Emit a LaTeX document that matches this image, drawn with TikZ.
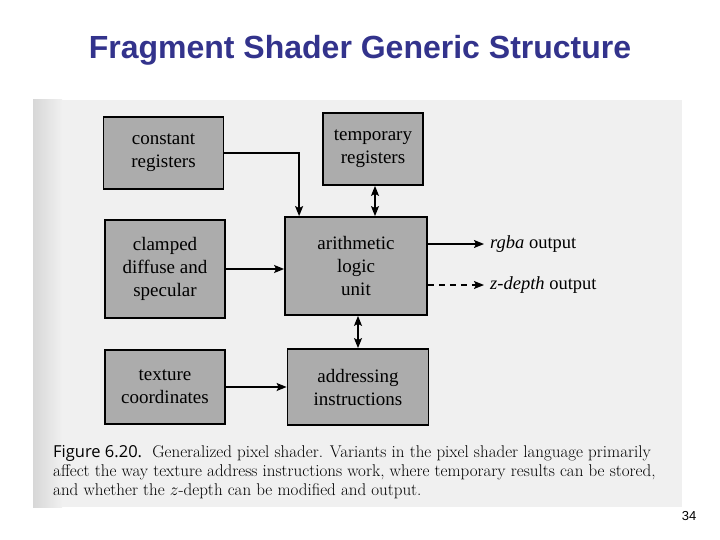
\documentclass[tikz,border=0pt]{standalone}
\usepackage{fontspec}
\newfontfamily\arialfont{Liberation Sans}
\newfontfamily\timesfont{Liberation Serif}
\newfontfamily\figfont{Open Sans}
\usetikzlibrary{arrows.meta,calc}
\definecolor{titleblue}{RGB}{51,51,140}
\definecolor{boxgray}{RGB}{172,172,172}
\definecolor{scanbg}{RGB}{240,240,240}
\definecolor{scanedge}{RGB}{215,215,215}
\begin{document}
\begin{tikzpicture}[x=1pt,y=-1pt,
  blk/.style={draw=black, line width=1.8pt, fill=boxgray, inner sep=0pt, align=center,
    font=\timesfont\fontsize{19}{23}\selectfont},
  conn/.style={line width=1.4pt, -{Stealth[length=10pt,width=8pt,inset=2pt]}},
  biconn/.style={line width=1.4pt, {Stealth[length=10pt,width=8pt,inset=2pt]}-{Stealth[length=10pt,width=8pt,inset=2pt]}},
  outlbl/.style={anchor=west, inner sep=0pt, font=\timesfont\fontsize{18.5}{20}\selectfont},
  caption/.style={anchor=base west, inner sep=0pt, font=\fontsize{17}{19}\selectfont}]
\useasboundingbox (0,0) rectangle (720,540);
\fill[white] (0,0) rectangle (720,540);
% scanned page
\fill[scanbg] (33,100) rectangle (682,507);
\shade[left color=scanedge, right color=scanbg] (33,100) rectangle (62,507);
% title
\node[font=\arialfont\bfseries\fontsize{32}{36}\selectfont, text=titleblue] (title) at (360,50) {Fragment Shader Generic Structure};
% boxes
\node[blk, minimum width=120pt, minimum height=72pt] (cr) at (163.5,153) {constant\\registers};
\node[blk, minimum width=100pt, minimum height=72pt] (tr) at (373,149) {temporary\\registers};
\node[blk, minimum width=120pt, minimum height=98pt] (cd) at (165,269) {clamped\\diffuse and\\specular};
\node[blk, minimum width=142pt, minimum height=98pt] (alu) at (356,266) {arithmetic\\logic\\unit};
\node[blk, minimum width=120pt, minimum height=74pt] (tc) at (165,387) {texture\\coordinates};
\node[blk, minimum width=141pt, minimum height=76pt] (ai) at (358,387) {addressing\\instructions};
% outputs
\node[outlbl] (rgba) at (490,244) {\textit{rgba} output};
\node[outlbl] (zd) at (490,285) {\textit{z-depth} output};
% connectors
\coordinate (crin) at ($(alu.north west)+(15,0)$);
\coordinate (tb) at ($(tr.south)+(2,0)$);
\draw[conn] (cr.east) -| (crin);
\draw[biconn] (tb) -- (tb |- alu.north);
\draw[conn] (cd.east) -- (cd.east -| alu.west);
\draw[conn] (alu.east |- rgba.west) -- ($(rgba.west)+(-6,0)$);
\draw[conn, dash pattern=on 6pt off 5pt] (alu.east |- zd.west) -- ($(zd.west)+(-6,0)$);
\draw[biconn] (ai.north) -- (ai.north |- alu.south);
\draw[conn] (tc.east) -- (tc.east -| ai.west);
% caption
\node[caption] (cap1) at (53,457) {{\figfont\fontsize{16.5}{18}\selectfont Figure 6.20.}\ \ Generalized pixel shader. Variants in the pixel shader language primarily};
\node[caption] (cap2) at (53,476) {affect the way texture address instructions work, where temporary results can be stored,};
\node[caption] (cap3) at (53,495) {and whether the $z$-depth can be modified and output.};
% page number
\node[font=\arialfont\fontsize{13}{15}\selectfont] (pg) at (689,516) {34};
\end{tikzpicture}
\end{document}
